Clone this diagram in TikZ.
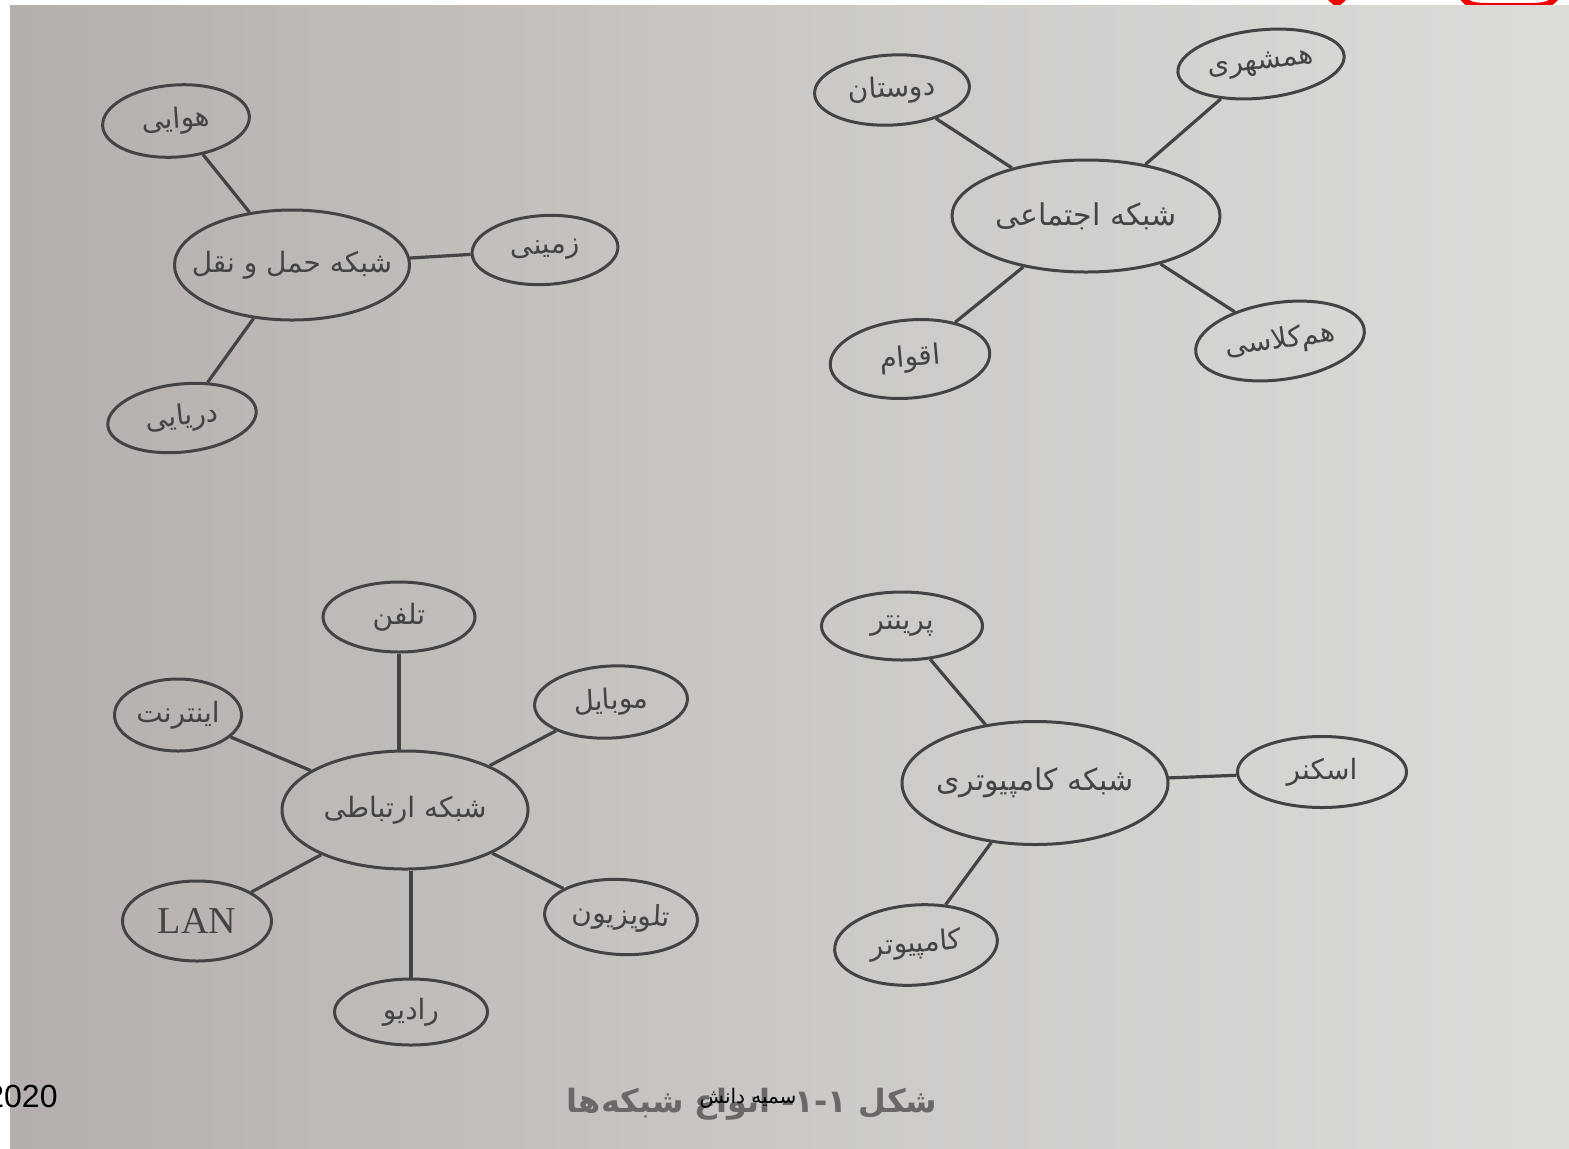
\documentclass[tikz,border=0pt]{standalone}
\usepackage{fontspec}
\usetikzlibrary{shapes.geometric}
\TeXXeTstate=1
\newfontfamily\fa[Script=Arabic]{DejaVu Sans}
\newfontfamily\lat{Liberation Sans}
\newfontfamily\ser{Liberation Serif}
\newcommand{\rtl}[1]{\makebox[0pt]{\beginR #1\endR}}
\definecolor{ink}{HTML}{444242}
\definecolor{bgl}{HTML}{B4AFAD}
\definecolor{bgm}{HTML}{CBC8C6}
\definecolor{bgr}{HTML}{DDDCD9}
\definecolor{capc}{HTML}{6B6766}
\definecolor{redm}{HTML}{F00000}
\begin{document}
\begin{tikzpicture}[x=0.5pt,y=-0.5pt,
  bub/.style={ellipse, draw=ink, line width=1.5pt, inner sep=0pt, text=ink,
              font=\fa\fontsize{14}{16}\selectfont},
  hub/.style={bub, font=\fa\fontsize{15}{18}\selectfont},
  sz/.style 2 args={minimum width=#1*0.5pt, minimum height=#2*0.5pt},
  link/.style={draw=ink, line width=1.6pt}]

\useasboundingbox (0,0) rectangle (1569,1148);
\fill[white] (0,0) rectangle (1569,1148);
% red marks at the top edge
\fill[redm] (1328,0) -- (1346,0) -- (1337,8) -- cycle;
\draw[redm, line width=3pt] (1462,-4) .. controls (1466,6) and (1478,6) .. (1490,6)
  -- (1530,6) .. controls (1545,6) and (1552,4) .. (1557,-4);
% photo background
\shade[left color=bgl, right color=bgr, middle color=bgm] (10,5) rectangle (1569,1148);

% ---------- transport network ----------
\node[hub, sz={235}{110}, font=\fa\fontsize{14}{18}\selectfont] (tr) at (292,265) {\rtl{شبکه حمل و نقل}};
\node[bub, sz={147}{72}, rotate=4] (hav) at (176,121) {\rtl{هوایی}};
\node[bub, sz={146}{69}, rotate=3] (zam) at (545,250) {\rtl{زمینی}};
\node[bub, sz={149}{68}, rotate=6] (dar) at (182,418) {\rtl{دریایی}};
\draw[link] (tr) -- (hav);
\draw[link] (tr) -- (zam);
\draw[link] (tr) -- (dar);

% ---------- social network ----------
\node[hub, sz={268}{112}] (so) at (1086,216) {\rtl{شبکه اجتماعی}};
\node[bub, sz={155}{70}, rotate=3] (dus) at (892,90) {\rtl{دوستان}};
\node[bub, sz={167}{68}, rotate=6] (ham) at (1261,64) {\rtl{همشهری}};
\node[bub, sz={160}{78}, rotate=5] (agh) at (910,359) {\rtl{اقوام}};
\node[bub, sz={170}{77}, rotate=8] (kel) at (1280,341) {\rtl{هم‌کلاسی}};
\draw[link] (so) -- (dus);
\draw[link] (so) -- (ham);
\draw[link] (so) -- (agh);
\draw[link] (so) -- (kel);

% ---------- communication network ----------
\node[hub, sz={246}{118}, font=\fa\fontsize{14}{18}\selectfont] (co) at (405,810) {\rtl{شبکه ارتباطی}};
\node[bub, sz={152}{70}] (tel) at (399,617) {\rtl{تلفن}};
\node[bub, sz={153}{72}, rotate=3] (mob) at (611,702) {\rtl{موبایل}};
\node[bub, sz={127}{72}] (int) at (178,715) {\rtl{اینترنت}};
\node[bub, sz={149}{80}, font=\ser\fontsize{19}{21}\selectfont] (lan) at (197,921) {\makebox[0pt]{LAN}};
\node[bub, sz={153}{75}, rotate=-3] (tv) at (621,917) {\rtl{تلویزیون}};
\node[bub, sz={153}{66}] (rad) at (411,1012) {\rtl{رادیو}};
\draw[link] (co.north -| tel) -- (tel);
\draw[link] (co) -- (mob);
\draw[link] (co) -- (int);
\draw[link] (co) -- (lan);
\draw[link] (co) -- (tv);
\draw[link] (co.south -| rad) -- (rad);

% ---------- computer network ----------
\node[hub, sz={266}{123}] (cm) at (1035,783) {\rtl{شبکه کامپیوتری}};
\node[bub, sz={161}{68}] (pri) at (902,626) {\rtl{پرینتر}};
\node[bub, sz={169}{71}] (sca) at (1322,772) {\rtl{اسکنر}};
\node[bub, sz={163}{80}, rotate=4] (cpu) at (916,945) {\rtl{کامپیوتر}};
\draw[link] (cm) -- (pri);
\draw[link] (cm) -- (sca);
\draw[link] (cm) -- (cpu);

% ---------- caption and overlays ----------
\node[font=\fa\bfseries\fontsize{16}{20}\selectfont, text=capc] (cap) at (752,1104)
  {\beginR شکل ۱-۱- انواع شبکه‌ها\endR};
\node[font=\fa\fontsize{10}{12}\selectfont, text=black] (sig) at (748,1098)
  {\beginR سمیه دانش\endR};
\node[font=\lat\fontsize{16}{18}\selectfont, text=black, anchor=east, inner sep=0pt] (yr)
  at (58,1096) {2020};
\end{tikzpicture}
\end{document}
